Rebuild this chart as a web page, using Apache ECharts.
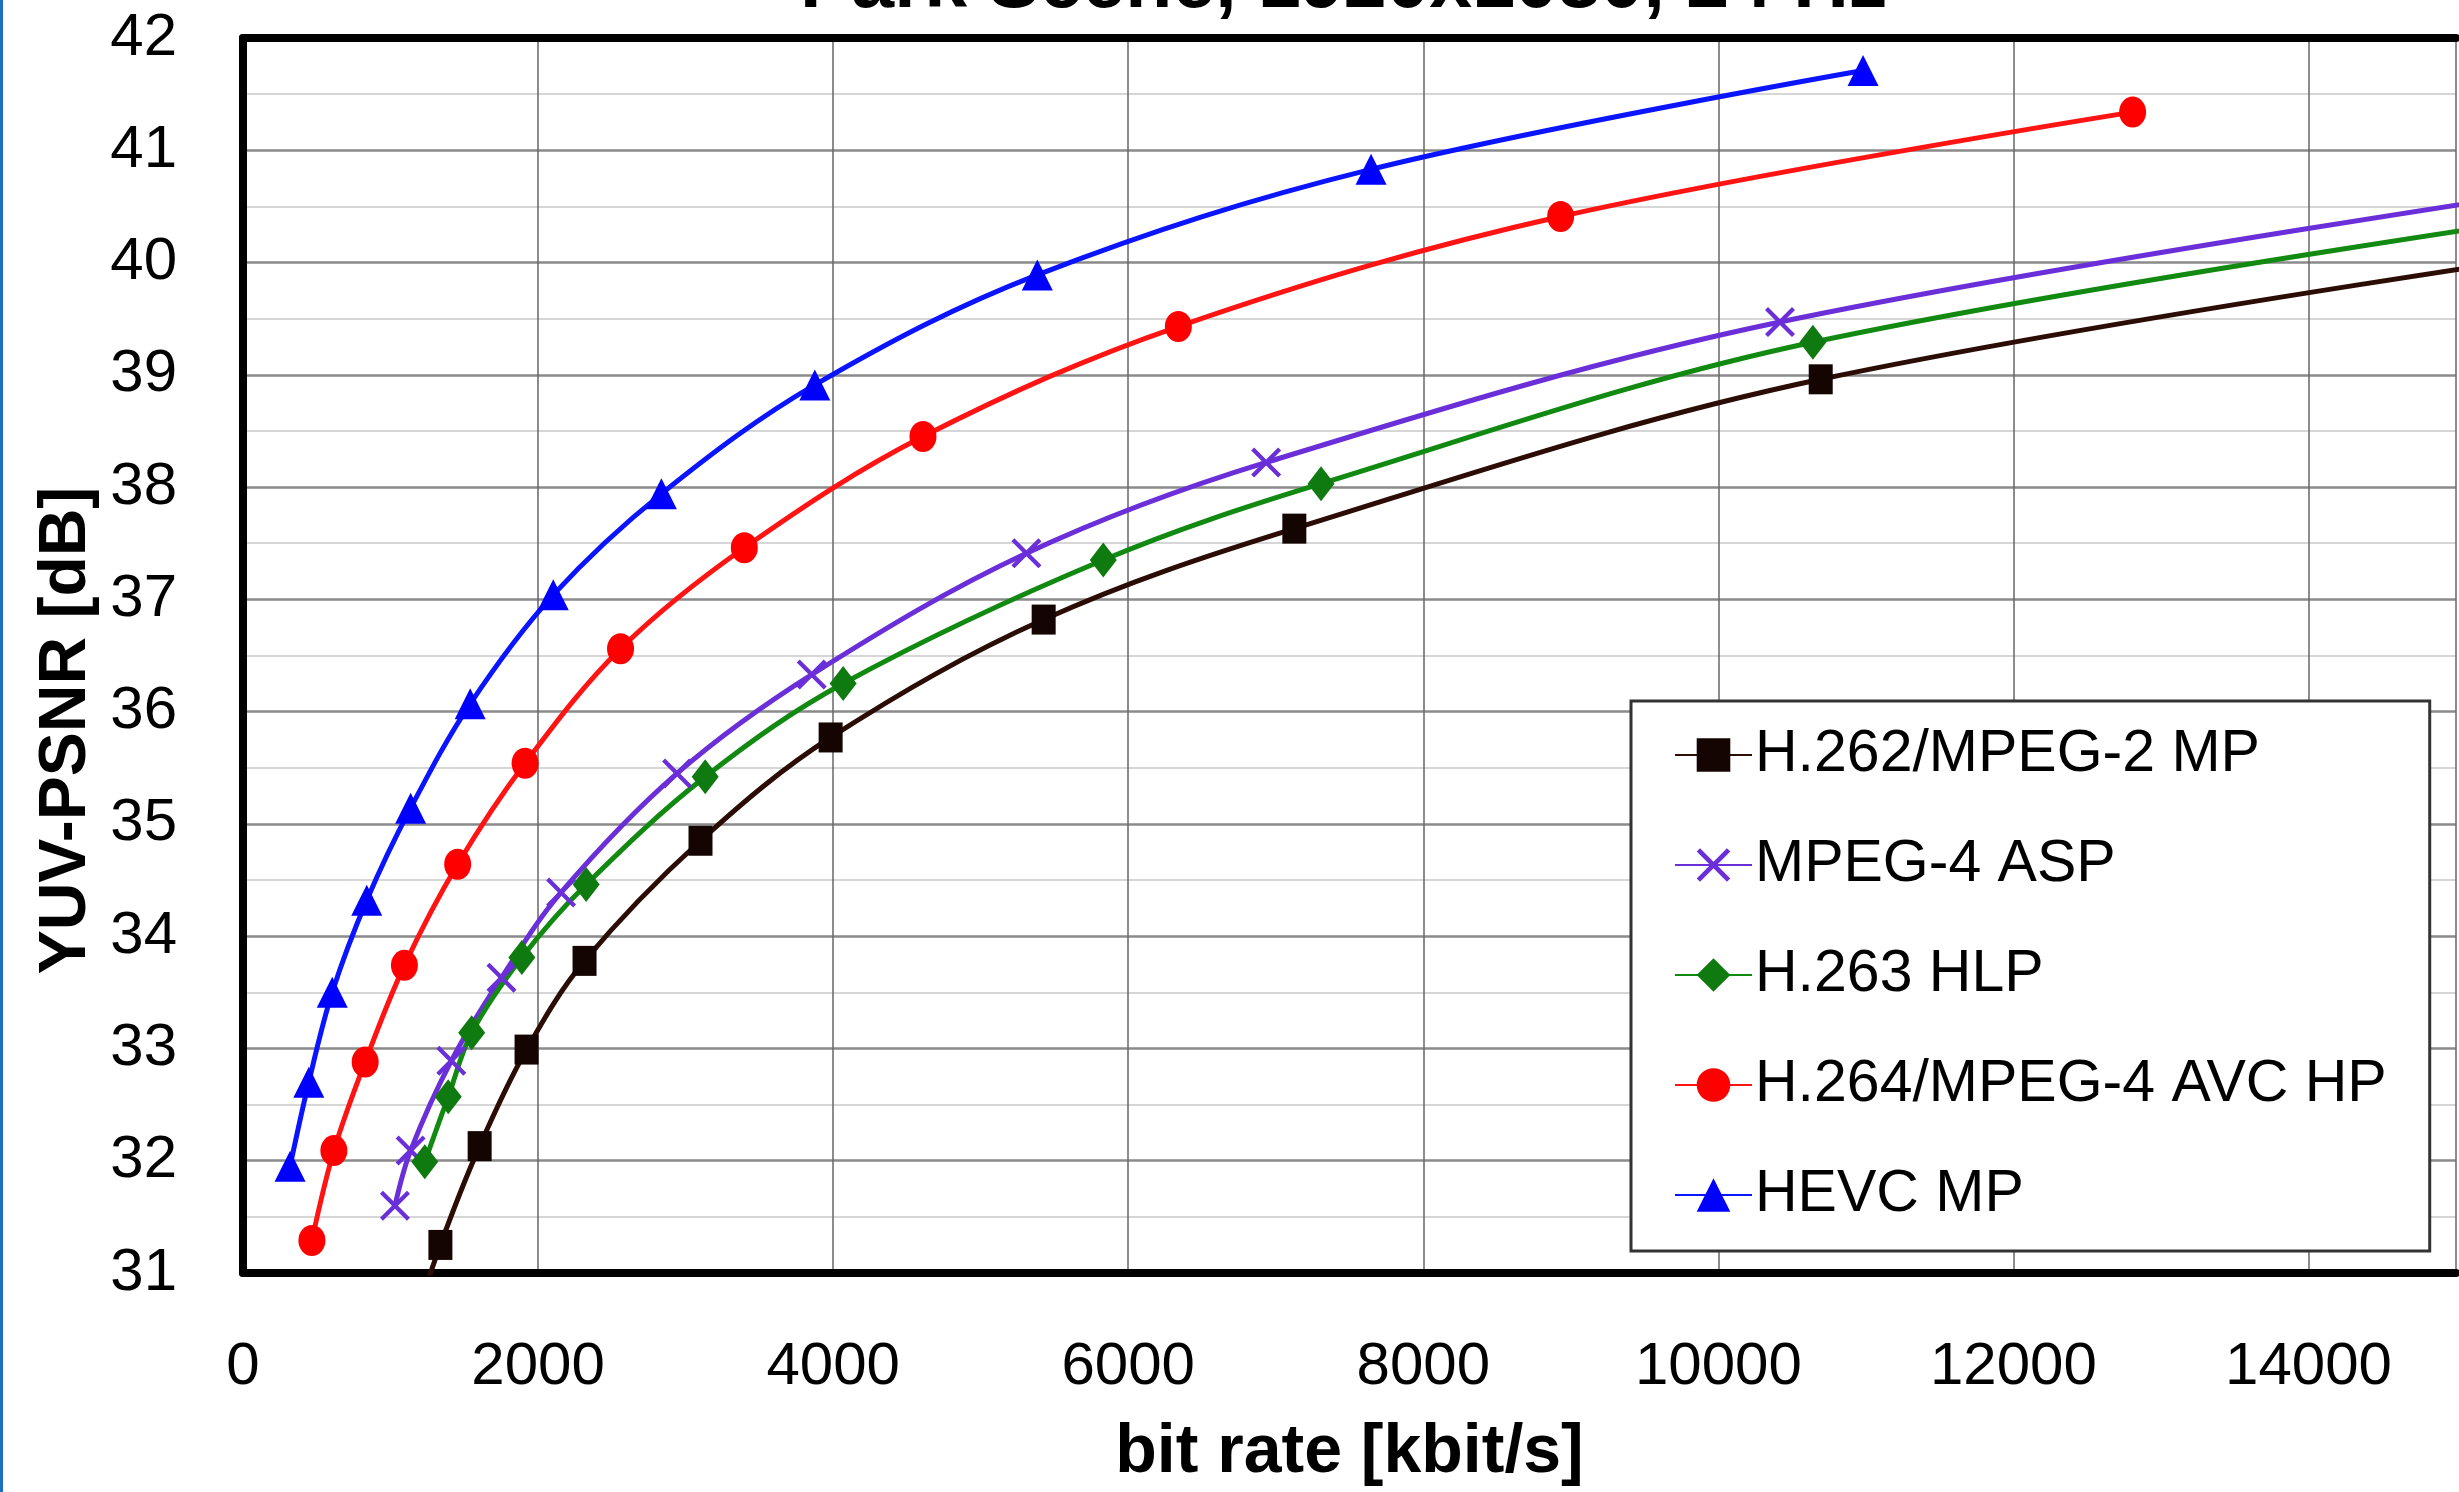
<!DOCTYPE html>
<html>
<head>
<meta charset="utf-8">
<script src="https://cdn.jsdelivr.net/npm/echarts@6/dist/echarts.min.js"></script>
<style>html,body{margin:0;padding:0;background:#fff;}#c{width:2459px;height:1492px;}</style>
</head>
<body>
<div id="c"></div>
<script>
const titleText = 'Park Scene, 1920x1080, 24 Hz';
const xName = 'bit rate [kbit/s]';
const yName = 'YUV-PSNR [dB]';
const xTicks = [0, 2000, 4000, 6000, 8000, 10000, 12000, 14000];
const yTicks = [31, 32, 33, 34, 35, 36, 37, 38, 39, 40, 41, 42];
const seriesNames = ['H.262/MPEG-2 MP', 'MPEG-4 ASP', 'H.263 HLP', 'H.264/MPEG-4 AVC HP', 'HEVC MP'];

const mpeg2 = [[1115,30.37],[1338,31.25],[1604,32.13],[1922,32.99],[2315,33.78],[3101,34.85],[3983,35.77],[5427,36.82],[7126,37.63],[10694,38.96],[16500,40.23]];
const mpeg4asp = [[1030,31.60],[1136,32.09],[1412,32.89],[1752,33.63],[2156,34.39],[2942,35.45],[3855,36.33],[5310,37.41],[6935,38.22],[10418,39.47],[16000,40.71]];
const h263 = [[1232,31.99],[1391,32.57],[1550,33.14],[1890,33.81],[2326,34.46],[3133,35.42],[4068,36.25],[5831,37.35],[7307,38.03],[10641,39.29],[16300,40.53]];
const h264 = [[467,31.29],[616,32.09],[828,32.88],[1094,33.74],[1455,34.64],[1912,35.54],[2559,36.56],[3398,37.46],[4609,38.45],[6340,39.43],[8931,40.41],[12808,41.34]];
const hevc = [[319,31.95],[446,32.70],[605,33.50],[839,34.32],[1136,35.14],[1540,36.07],[2103,37.04],[2836,37.94],[3876,38.91],[5384,39.89],[7646,40.83],[10981,41.71]];

const FONT = 'Liberation Sans, Arial, sans-serif';
const crossPath = 'path://M0,1 L1,0 L5,4 L9,0 L10,1 L6,5 L10,9 L9,10 L5,6 L1,10 L0,9 L4,5 Z';

function mk(name, data, color, symbol, size, markerColor) {
  return {
    name: name, type: 'line', data: data, smooth: 0.35,
    symbol: symbol, symbolSize: size, showAllSymbol: true,
    lineStyle: { color: color, width: 5 },
    itemStyle: { color: markerColor || color, borderWidth: 0 },
    emphasis: { disabled: true },
    clip: true, z: 3
  };
}

const chart = echarts.init(document.getElementById('c'), null, { renderer: 'canvas' });
chart.setOption({
  animation: false,
  backgroundColor: '#fff',
  title: {
    text: titleText, left: 800, top: -53, padding: 0,
    textStyle: { fontFamily: FONT, fontSize: 77, fontWeight: 'bold', color: '#000' }
  },
  graphic: [{ type: 'rect', left: 0, top: 0, shape: { width: 3, height: 1492 }, style: { fill: '#1f6fc0' }, z: 100 }],
  grid: { left: 243, top: 38, right: 0, bottom: 212 },
  legend: {
    orient: 'vertical', left: 1631, top: 701,
    padding: [24, 43, 26, 43],
    backgroundColor: '#fff', borderColor: '#333', borderWidth: 3,
    itemWidth: 77, itemHeight: 42, itemGap: 50,
    textStyle: { fontFamily: FONT, fontSize: 59, color: '#000', lineHeight: 60, padding: [0, 0, 0, -2] },
    data: seriesNames
  },
  xAxis: [{
    type: 'value', min: 0, max: 15000, interval: 2000,
    name: xName, nameLocation: 'middle', nameGap: 146,
    nameTextStyle: { fontFamily: FONT, fontSize: 68, fontWeight: 'bold', color: '#000' },
    axisLine: { show: true, onZero: false, lineStyle: { color: '#000', width: 8 } },
    axisTick: { show: false },
    axisLabel: { margin: 64, fontFamily: FONT, fontSize: 60, color: '#000',
      formatter: v => xTicks.indexOf(v) >= 0 ? String(v) : '' },
    splitLine: { show: true, lineStyle: { color: '#666', width: 1.5 } }
  }, {
    type: 'value', position: 'top', min: 0, max: 15000,
    axisLine: { show: true, onZero: false, lineStyle: { color: '#000', width: 8 } },
    axisTick: { show: false }, axisLabel: { show: false }, splitLine: { show: false }
  }],
  yAxis: {
    type: 'value', min: 31, max: 42, interval: 1,
    name: yName, nameLocation: 'middle', nameGap: 130, nameRotate: 90,
    nameTextStyle: { fontFamily: 'Liberation Sans Narrow, Liberation Sans, Arial, sans-serif', fontSize: 66, fontWeight: 'bold', color: '#000', padding: [0, 150, 0, 0] },
    axisLine: { show: true, onZero: false, lineStyle: { color: '#000', width: 8 } },
    axisTick: { show: false },
    minorTick: { show: false, splitNumber: 2 },
    minorSplitLine: { show: true, lineStyle: { color: '#d6d6d6', width: 2 } },
    axisLabel: { margin: 66, fontFamily: FONT, fontSize: 60, color: '#000',
      formatter: v => yTicks.indexOf(v) >= 0 ? String(v) : '' },
    splitLine: { show: true, lineStyle: { color: '#8a8a8a', width: 2.5 } }
  },
  series: [
    mk(seriesNames[0], mpeg2, '#2b0d06', 'rect', [24, 30], '#140503'),
    mk(seriesNames[1], mpeg4asp, '#6a2fd8', crossPath, [30, 30], '#6a2fd8'),
    mk(seriesNames[2], h263, '#128a12', 'diamond', [27, 35], '#0f7a0f'),
    mk(seriesNames[3], h264, '#ff1414', 'circle', [27, 31], '#ff0000'),
    mk(seriesNames[4], hevc, '#0a14ff', 'triangle', [31, 31], '#0000ff')
  ]
});
</script>
</body>
</html>
